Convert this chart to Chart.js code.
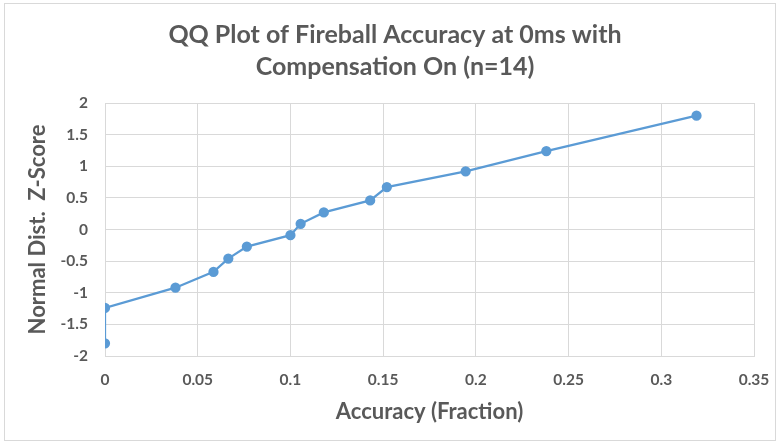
<!DOCTYPE html>
<html>
<head>
<meta charset="utf-8">
<script src="https://cdn.jsdelivr.net/npm/chart.js@4/dist/chart.umd.min.js"></script>
<style>
  body { margin: 0; background: #fff; }
  .chart-box {
    position: absolute; left: 4px; top: 3px;
    width: 770px; height: 436px;
    border: 1px solid #d9d9d9;
  }
</style>
</head>
<body>
<div class="chart-box">
  <canvas id="qqChart" width="770" height="436"></canvas>
</div>
<script>
// sample accuracy (sorted) against the expected normal z-score
var accuracy = [0, 0, 0.038, 0.0585, 0.0665, 0.0765, 0.1, 0.1055, 0.118, 0.143, 0.152, 0.1945, 0.238, 0.319];
var zScore = [-1.80, -1.24, -0.92, -0.67, -0.46, -0.27, -0.09, 0.09, 0.27, 0.46, 0.67, 0.92, 1.24, 1.80];

var xTickLabels = ['0', '0.05', '0.1', '0.15', '0.2', '0.25', '0.3', '0.35'];
var yTickLabels = ['-2', '-1.5', '-1', '-0.5', '0', '0.5', '1', '1.5', '2'];

var points = accuracy.map(function (a, i) { return { x: a, y: zScore[i] }; });

var textColor = '#595959';
var gridColor = '#d9d9d9';
var fontFamily = 'Lato, "Open Sans", sans-serif';

var chart = new Chart('qqChart', {
  type: 'scatter',
  data: {
    datasets: [
      {
        data: points,
        showLine: true,
        borderColor: '#5b9bd5',
        backgroundColor: '#5b9bd5',
        borderWidth: 2.25,
        pointRadius: 4,
        pointHoverRadius: 4
      }
    ]
  },
  options: {
    responsive: false,
    animation: false,
    layout: { padding: { left: 10, right: 0, top: 0, bottom: 0 } },
    plugins: {
      legend: { display: false },
      tooltip: { enabled: false },
      title: {
        display: true,
        text: ['QQ Plot of Fireball Accuracy at 0ms with', 'Compensation On (n=14)'],
        color: textColor,
        font: { family: fontFamily, size: 25, weight: 'bold', lineHeight: 1.28 },
        padding: { top: 15, bottom: 20 }
      }
    },
    scales: {
      x: {
        type: 'linear',
        min: 0,
        max: 0.35,
        afterBuildTicks: function (axis) {
          axis.ticks = xTickLabels.map(function (t) { return { value: parseFloat(t) }; });
        },
        afterFit: function (axis) {
          axis.height = 84;
          // the right margin is reserved by the spacer axis below
          axis.paddingLeft = 0;
          axis.paddingRight = 0;
        },
        ticks: {
          color: textColor,
          font: { family: fontFamily, size: 15.5, weight: 'bold' },
          padding: 15,
          maxRotation: 0,
          callback: function (v, i) { return xTickLabels[i]; }
        },
        grid: { color: gridColor, lineWidth: 1, drawTicks: false },
        border: { color: gridColor },
        title: {
          display: true,
          text: 'Accuracy (Fraction)',
          color: textColor,
          font: { family: fontFamily, size: 22, weight: 'bold', lineHeight: 1.2 },
          padding: { top: 0, bottom: 15 }
        }
      },
      y: {
        type: 'linear',
        min: -2,
        max: 2,
        afterBuildTicks: function (axis) {
          axis.ticks = yTickLabels.map(function (t) { return { value: parseFloat(t) }; });
        },
        afterFit: function (axis) { axis.width = 90; },
        ticks: {
          color: textColor,
          font: { family: fontFamily, size: 15.5, weight: 'bold' },
          padding: 17,
          callback: function (v, i) { return yTickLabels[i]; }
        },
        grid: { color: gridColor, lineWidth: 1, drawTicks: false },
        border: { color: gridColor },
        title: {
          display: true,
          text: 'Normal Dist.  Z-Score',
          color: textColor,
          font: { family: fontFamily, size: 22, weight: 'bold', lineHeight: 1.2 },
          padding: { top: 10, bottom: 0 }
        }
      },
      // empty right margin beside the plot area
      margin: {
        type: 'linear',
        position: 'right',
        min: 0,
        max: 1,
        afterFit: function (axis) { axis.width = 21; },
        ticks: { display: false },
        grid: { display: false },
        border: { display: false }
      }
    }
  }
});
</script>
</body>
</html>
